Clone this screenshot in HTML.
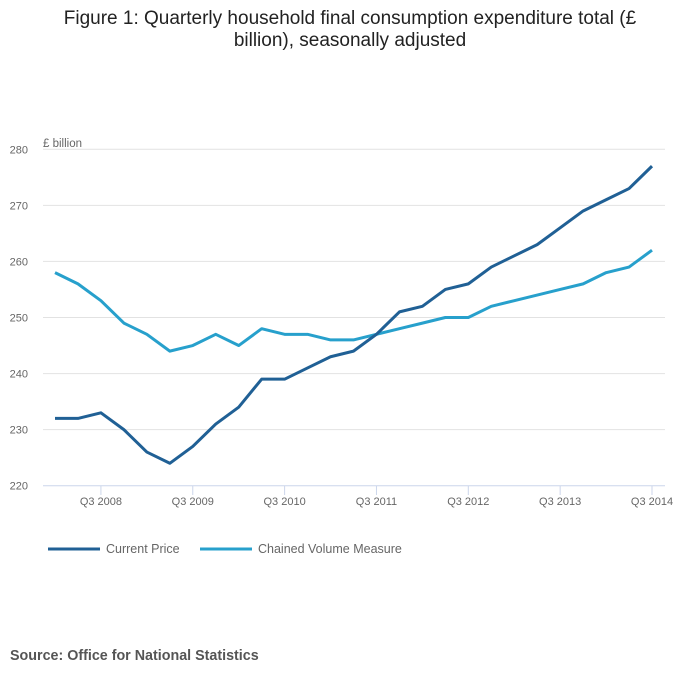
<!DOCTYPE html>
<html><head><meta charset="utf-8"><style>
body{margin:0;background:#fff;font-family:"Liberation Sans",sans-serif;}
</style></head><body>
<svg width="700" height="682" viewBox="0 0 700 682" style="display:block">
<text x="350" y="24" text-anchor="middle" font-size="19" fill="#222">Figure 1: Quarterly household final consumption expenditure total (£</text>
<text x="350" y="46" text-anchor="middle" font-size="19" fill="#222">billion), seasonally adjusted</text>
<text x="43" y="147" font-size="11.5" fill="#666">£ billion</text>
<g id="grid"></g>
<g id="xaxis"></g>
<g id="lines"></g>
<g>
<line x1="48" y1="549" x2="100" y2="549" stroke="#206095" stroke-width="3"/>
<text x="106" y="553" font-size="12.5" fill="#666">Current Price</text>
<line x1="200" y1="549" x2="252" y2="549" stroke="#27a0cc" stroke-width="3"/>
<text x="258" y="553" font-size="12.5" fill="#666">Chained Volume Measure</text>
</g>
<text x="10" y="660" font-size="14.3" font-weight="bold" fill="#555">Source: Office for National Statistics</text>
</svg>
<script>
const yTicks=[220,230,240,250,260,270,280];
const xTickLabels=["Q3 2008","Q3 2009","Q3 2010","Q3 2011","Q3 2012","Q3 2013","Q3 2014"];
const xTickIndex=[2,6,10,14,18,22,26];
const currentPrice=[232,232,233,230,226,224,227,231,234,239,239,241,243,244,247,251,252,255,256,259,261,263,266,269,271,273,277];
const chainedVolume=[258,256,253,249,247,244,245,247,245,248,247,247,246,246,247,248,249,250,250,252,253,254,255,256,258,259,262];
const NS="http://www.w3.org/2000/svg";
const x0=55,x1=652,n=currentPrice.length;
function xs(i){return x0+i*(x1-x0)/(n-1);}
function ys(v){return 485.7-(v-220)*(485.7-149.3)/60;}
function mk(t,a,p){const e=document.createElementNS(NS,t);for(const k in a)e.setAttribute(k,a[k]);p.appendChild(e);return e;}
const g=document.getElementById('grid');
yTicks.forEach(v=>{
 if(v>220){const l=mk('line',{x1:43,x2:665,y1:ys(v),y2:ys(v),stroke:'#e2e2e2','stroke-width':1},g);
 
 }
 const t=mk('text',{x:28,y:ys(v)+4,'text-anchor':'end','font-size':11,fill:'#666'},g);t.textContent=v;
 
 
});
const xa=document.getElementById('xaxis');
const ax=mk('line',{x1:43,x2:665,y1:485.7,y2:485.7,stroke:'#ccd6eb','stroke-width':1},xa);


xTickLabels.forEach((lab,k)=>{
 const x=xs(xTickIndex[k]);
 const tk=mk('line',{x1:x,x2:x,y1:485.7,y2:495,stroke:'#ccd6eb'},xa);
 
 
 const t=mk('text',{x:x,y:505,'text-anchor':'middle','font-size':11,fill:'#666'},xa);t.textContent=lab;
 
 
});
const lg=document.getElementById('lines');
function series(d,c,name){
 const p=mk('polyline',{points:d.map((v,i)=>xs(i)+','+ys(v)).join(' '),fill:'none',stroke:c,'stroke-width':3,'stroke-linejoin':'round'},lg);
 
 
}
series(chainedVolume,'#27a0cc','line-chained-volume-measure');
series(currentPrice,'#206095','line-current-price');
</script>
</body></html>
